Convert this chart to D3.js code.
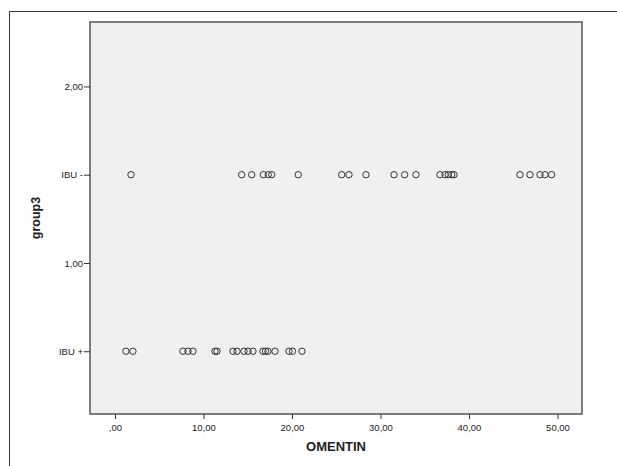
<!DOCTYPE html>
<html>
<head>
<meta charset="utf-8">
<script src="https://cdn.jsdelivr.net/npm/d3@7"></script>
<style>
  html, body { margin: 0; padding: 0; background: #fff; }
  svg { display: block; }
</style>
</head>
<body>
<svg id="chart" width="617" height="466"></svg>
<script>
// ---- data ----
const groupIbuMinus = [1.81, 14.32, 15.45, 16.76, 17.32, 17.71, 20.71, 25.62, 26.44, 28.36,
  31.53, 32.73, 34.01, 36.72, 37.29, 37.66, 38.05, 38.31, 45.76, 46.89, 48.02, 48.59, 49.34];
const groupIbuPlus = [1.24, 2.03, 7.68, 8.25, 8.81, 11.30, 11.53, 13.33, 13.79, 14.58, 15.03,
  15.59, 16.72, 17.01, 17.29, 18.08, 19.66, 20.06, 21.13];
const groupValues = { "IBU -": 1.5, "IBU +": 0.5 };
const yTickValues = [0.5, 1, 1.5, 2];
const yTickLabels = ["IBU +", "1,00", "IBU -", "2,00"];
const xTickValues = [0, 10, 20, 30, 40, 50];
const xTickLabels = [",00", "10,00", "20,00", "30,00", "40,00", "50,00"];
const xTitle = "OMENTIN";
const yTitle = "group3";

// ---- layout ----
const svg = d3.select("#chart");
const plot = { left: 90, top: 22, right: 582, bottom: 414 };

const x = d3.scaleLinear().domain([-2.82, 52.77]).range([plot.left, plot.right]);
const y = d3.scaleLinear().domain([0.1445, 2.365]).range([plot.bottom, plot.top]);

// outer frame
svg.append("path")
  .attr("d", `M9.5,466 L9.5,11.5 L617,11.5`)
  .attr("fill", "none").attr("stroke", "#333").attr("stroke-width", 1);

// plot area
svg.append("rect")
  .attr("x", plot.left).attr("y", plot.top)
  .attr("width", plot.right - plot.left).attr("height", plot.bottom - plot.top)
  .attr("fill", "#F0F0F0").attr("stroke", "#555").attr("stroke-width", 1.5);

// axes
const fontFam = "'Liberation Sans', Arial, sans-serif";
const xAxis = d3.axisBottom(x).tickValues(xTickValues)
  .tickFormat((d, i) => xTickLabels[i]).tickSize(5).tickSizeOuter(0);
const gx = svg.append("g").attr("transform", `translate(0,${plot.bottom})`).call(xAxis);
gx.select(".domain").remove();
gx.selectAll("line").attr("stroke", "#333");
gx.selectAll("text").attr("font-family", fontFam).attr("font-size", "9.5px")
  .attr("fill", "#222").attr("dy", "0.9em");

const yAxis = d3.axisLeft(y).tickValues(yTickValues)
  .tickFormat((d, i) => yTickLabels[i]).tickSize(6).tickSizeOuter(0);
const gy = svg.append("g").attr("transform", `translate(${plot.left},0)`).call(yAxis);
gy.select(".domain").remove();
gy.selectAll("line").attr("stroke", "#333");
gy.selectAll("text").attr("font-family", fontFam).attr("font-size", "9.5px")
  .attr("fill", "#222").attr("x", -7);

// titles
svg.append("text").attr("x", (plot.left + plot.right) / 2).attr("y", 451)
  .attr("text-anchor", "middle").attr("font-family", fontFam)
  .attr("font-weight", "bold").attr("font-size", "13px").attr("fill", "#222").text(xTitle);
svg.append("text").attr("transform", `translate(40,${(plot.top + plot.bottom) / 2}) rotate(-90)`)
  .attr("text-anchor", "middle").attr("font-family", fontFam)
  .attr("font-weight", "bold").attr("font-size", "12.5px").attr("fill", "#222").text(yTitle);

// points
const points = [
  ...groupIbuMinus.map(v => ({ v, g: "IBU -" })),
  ...groupIbuPlus.map(v => ({ v, g: "IBU +" }))
];
svg.append("g").selectAll("circle").data(points).join("circle")
  .attr("cx", d => x(d.v)).attr("cy", d => y(groupValues[d.g]))
  .attr("r", 3.2).attr("fill", "none").attr("stroke", "#333").attr("stroke-width", 1);
</script>
</body>
</html>
